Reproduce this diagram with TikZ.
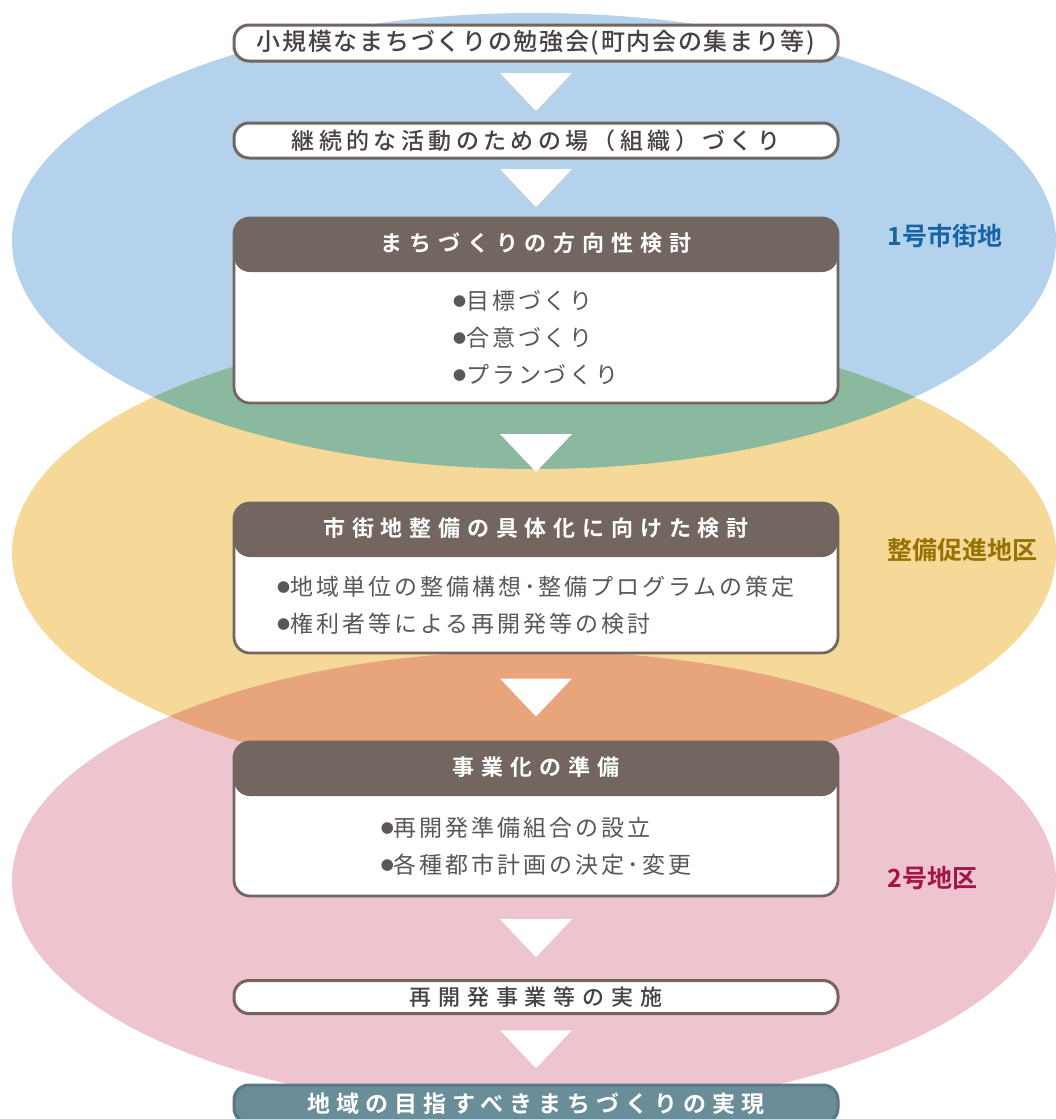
\documentclass[tikz,border=0pt]{standalone}
\usepackage{fontspec}
\usepackage{tikz}
\usetikzlibrary{calc,positioning}
\newfontfamily\jp{Noto Sans CJK JP}
\IfFontExistsTF{Noto Sans CJK JP Bold}
  {\newfontfamily\jpb{Noto Sans CJK JP Bold}}
  {\newfontfamily\jpb[FakeBold=2]{Noto Sans CJK JP}}
\IfFontExistsTF{Noto Sans CJK JP Medium}
  {\newfontfamily\jpm{Noto Sans CJK JP Medium}}
  {\newfontfamily\jpm{Noto Sans CJK JP}}
\definecolor{zoneblue}{RGB}{181,210,237}
\definecolor{zoneyellow}{RGB}{246,216,152}
\definecolor{zonepink}{RGB}{238,196,206}
\definecolor{zonegreen}{RGB}{138,185,160}
\definecolor{zoneorange}{RGB}{232,164,122}
\definecolor{framegray}{RGB}{115,101,96}
\definecolor{goalblue}{RGB}{106,141,154}
\definecolor{textdark}{RGB}{72,66,66}
\definecolor{textgray}{RGB}{92,86,86}
\definecolor{labblue}{RGB}{22,100,165}
\definecolor{labgold}{RGB}{150,115,0}
\definecolor{labred}{RGB}{165,20,70}
\newcommand{\bul}{\raisebox{3pt}{\fontsize{13}{13}\selectfont ●}}

\begin{document}
\begin{tikzpicture}[
  x=1pt,y=-1pt,
  pill/.style={draw=framegray,line width=3pt,fill=white,rounded corners=15pt,minimum width=604pt,minimum height=35pt,inner sep=0pt,text=textdark},
  panel/.style={draw=framegray,line width=2.8pt,fill=white,rounded corners=16pt,minimum width=604pt,inner sep=0pt,
    path picture={\fill[framegray] (path picture bounding box.north west) rectangle ([yshift=-54pt]path picture bounding box.north east);}},
  head/.style={text=white,font=\jpb\fontsize{22}{22}\selectfont\addfontfeatures{LetterSpace=31}},
  body/.style={align=left,text=textgray,font=\jp\fontsize{23}{37}\selectfont\addfontfeatures{LetterSpace=13}},
  zonelab/.style={anchor=west,font=\jpb\fontsize{25}{25}\selectfont},
  tri/.style={fill=white},
]
  \useasboundingbox (0,0) rectangle (1056,1119);

  % zones
  \fill[zoneblue]   (534,241) ellipse [x radius=522,y radius=228];
  \fill[zoneyellow] (534,553) ellipse [x radius=522,y radius=228];
  \fill[zonepink]   (534,881) ellipse [x radius=522,y radius=230];
  \begin{scope}
    \clip (534,241) ellipse [x radius=522,y radius=228];
    \fill[zonegreen] (534,553) ellipse [x radius=522,y radius=228];
  \end{scope}
  \begin{scope}
    \clip (534,553) ellipse [x radius=522,y radius=228];
    \fill[zoneorange] (534,881) ellipse [x radius=522,y radius=230];
  \end{scope}

  \node[zonelab,text=labblue] (zone1) at (884,236) {1号市街地};
  \node[zonelab,text=labgold] (zone2) at (884,550) {整備促進地区};
  \node[zonelab,text=labred]  (zone3) at (884,878) {2号地区};

  % steps
  \node[pill,minimum height=36pt,font=\jpm\fontsize{24}{24}\selectfont\addfontfeatures{LetterSpace=7}] (study) at (536,43)
    {小規模なまちづくりの勉強会(町内会の集まり等)};
  \node[pill,font=\jpm\fontsize{23}{23}\selectfont\addfontfeatures{LetterSpace=19}] (org) at (536,140.5)
    {継続的な活動のための場（組織）づくり};

  \node[panel,minimum height=185pt] (policy) at (536,310.5) {};
  \node[head] (policyh) at ($(policy.north)+(0,27)$) {まちづくりの方向性検討};
  \node[body] (policyb) at ($(policy.center)+(0,27)$) {\bul 目標づくり\\\bul 合意づくり\\\bul プランづくり};

  \node[panel,minimum height=150pt] (detail) at (536,578) {};
  \node[head] (detailh) at ($(detail.north)+(0,27)$) {市街地整備の具体化に向けた検討};
  \node[body] (detailb) at ($(detail.center)+(0,27)$) {\bul 地域単位の整備構想･整備プログラムの策定\\\bul 権利者等による再開発等の検討};

  \node[panel,minimum height=154pt] (prep) at (536,819) {};
  \node[head] (preph) at ($(prep.north)+(0,27)$) {事業化の準備};
  \node[body] (prepb) at ($(prep.center)+(0,27)$) {\bul 再開発準備組合の設立\\\bul 各種都市計画の決定･変更};

  \node[pill,minimum height=33pt,font=\jpm\fontsize{22}{22}\selectfont\addfontfeatures{LetterSpace=31}] (impl) at (536,997)
    {再開発事業等の実施};
  \node[pill,draw=goalblue!85!black,fill=goalblue,minimum height=38pt,text=white,font=\jpb\fontsize{23}{23}\selectfont\addfontfeatures{LetterSpace=26}] (goal) at (536,1104)
    {地域の目指すべきまちづくりの実現};

  % arrows
  \foreach \a/\b in {study/org,org/policy,policy/detail,detail/prep,prep/impl,impl/goal}
    \fill[tri] ($(\a.south)!.5!(\b.north)$) ++(-36,-19) -- ++(72,0) -- ++(-36,38) -- cycle;
\end{tikzpicture}
\end{document}
